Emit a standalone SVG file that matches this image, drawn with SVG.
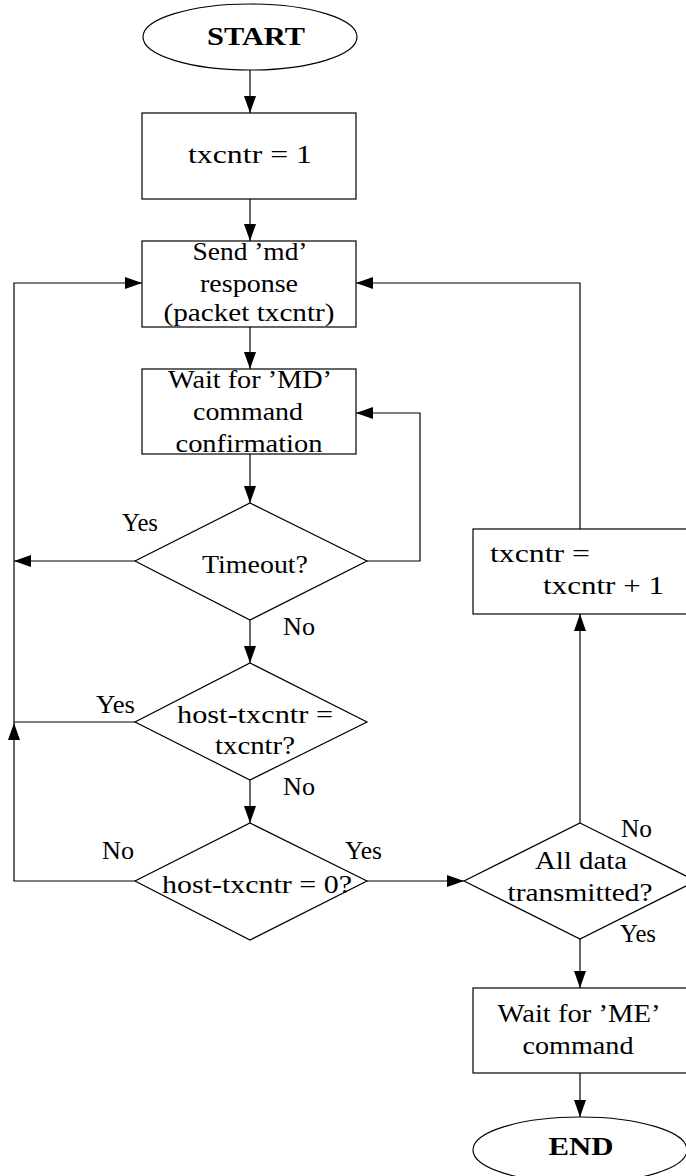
<svg xmlns="http://www.w3.org/2000/svg" width="686" height="1176" viewBox="0 0 686 1176">
<style>
.shape{fill:#fff;stroke:#000;stroke-width:1.2}
.conn{fill:none;stroke:#000;stroke-width:1.2}
text{font-family:"Liberation Serif","Times New Roman",serif;font-size:25px;fill:#000}
.c{text-anchor:middle}
.b{font-weight:bold}
</style>
<defs>
<marker id="arr" markerUnits="userSpaceOnUse" markerWidth="17" markerHeight="12" refX="17" refY="6" orient="auto">
<path d="M0,0 L17,6 L0,12 z" fill="#000"/>
</marker>
</defs>
<rect width="686" height="1176" fill="#fff"/>
<g id="connectors">
<path class="conn" d="M250,70 V113" marker-end="url(#arr)"/>
<path class="conn" d="M250,199 V241" marker-end="url(#arr)"/>
<path class="conn" d="M250,327 V369" marker-end="url(#arr)"/>
<path class="conn" d="M250,454 V503" marker-end="url(#arr)"/>
<path class="conn" d="M135,561 H14" marker-end="url(#arr)"/>
<path class="conn" d="M367,561 H420 V413 H356" marker-end="url(#arr)"/>
<path class="conn" d="M250,620 V663" marker-end="url(#arr)"/>
<path class="conn" d="M135,722 H14"/>
<path class="conn" d="M250,780 V823" marker-end="url(#arr)"/>
<path class="conn" d="M135,881 H14 V723" marker-end="url(#arr)"/>
<path class="conn" d="M14,723 V283 H142" marker-end="url(#arr)"/>
<path class="conn" d="M367,881 H464" marker-end="url(#arr)"/>
<path class="conn" d="M580,823 V614" marker-end="url(#arr)"/>
<path class="conn" d="M580,529 V283 H356" marker-end="url(#arr)"/>
<path class="conn" d="M580,939 V988" marker-end="url(#arr)"/>
<path class="conn" d="M580,1073 V1117" marker-end="url(#arr)"/>
</g>
<g id="start">
<ellipse class="shape" cx="250" cy="37" rx="107" ry="33"/>
<text class="c b" x="256" y="45" textLength="98" lengthAdjust="spacingAndGlyphs">START</text>
</g>
<g id="init">
<rect class="shape" x="142" y="113" width="214" height="86"/>
<text class="c" x="250" y="163" textLength="124" lengthAdjust="spacingAndGlyphs">txcntr = 1</text>
</g>
<g id="send">
<rect class="shape" x="142" y="241" width="214" height="86"/>
<text class="c" x="250" y="260" textLength="115" lengthAdjust="spacingAndGlyphs">Send ’md’</text>
<text class="c" x="249" y="292" textLength="98" lengthAdjust="spacingAndGlyphs">response</text>
<text class="c" x="249" y="321" textLength="171" lengthAdjust="spacingAndGlyphs">(packet txcntr)</text>
</g>
<g id="wait-md">
<rect class="shape" x="142" y="369" width="214" height="85"/>
<text class="c" x="250" y="388" textLength="164" lengthAdjust="spacingAndGlyphs">Wait for ’MD’</text>
<text class="c" x="248" y="420" textLength="110" lengthAdjust="spacingAndGlyphs">command</text>
<text class="c" x="249" y="452" textLength="147" lengthAdjust="spacingAndGlyphs">confirmation</text>
</g>
<g id="timeout">
<polygon class="shape" points="250,503 367,561 250,620 135,561"/>
<text class="c" x="255" y="573" textLength="106" lengthAdjust="spacingAndGlyphs">Timeout?</text>
<text x="122" y="531" textLength="36" lengthAdjust="spacingAndGlyphs">Yes</text>
<text x="283" y="635" textLength="32" lengthAdjust="spacingAndGlyphs">No</text>
</g>
<g id="host-eq">
<polygon class="shape" points="250,663 367,722 250,780 135,722"/>
<text class="c" x="255" y="723" textLength="156" lengthAdjust="spacingAndGlyphs">host-txcntr =</text>
<text class="c" x="255" y="754" textLength="80" lengthAdjust="spacingAndGlyphs">txcntr?</text>
<text x="96" y="713" textLength="39" lengthAdjust="spacingAndGlyphs">Yes</text>
<text x="283" y="795" textLength="32" lengthAdjust="spacingAndGlyphs">No</text>
</g>
<g id="host-zero">
<polygon class="shape" points="250,823 367,881 250,940 135,881"/>
<text class="c" x="257" y="893" textLength="190" lengthAdjust="spacingAndGlyphs">host-txcntr = 0?</text>
<text x="102" y="859" textLength="32" lengthAdjust="spacingAndGlyphs">No</text>
<text x="345" y="859" textLength="37" lengthAdjust="spacingAndGlyphs">Yes</text>
</g>
<g id="all-data">
<polygon class="shape" points="580,823 696,881 580,939 464,881"/>
<text class="c" x="581" y="869" textLength="92" lengthAdjust="spacingAndGlyphs">All data</text>
<text class="c" x="580" y="901" textLength="145" lengthAdjust="spacingAndGlyphs">transmitted?</text>
<text x="621" y="837" textLength="31" lengthAdjust="spacingAndGlyphs">No</text>
<text x="620" y="942" textLength="36" lengthAdjust="spacingAndGlyphs">Yes</text>
</g>
<g id="increment">
<rect class="shape" x="473" y="529" width="214" height="85"/>
<text x="490" y="562" textLength="100" lengthAdjust="spacingAndGlyphs">txcntr =</text>
<text x="543" y="594" textLength="121" lengthAdjust="spacingAndGlyphs">txcntr + 1</text>
</g>
<g id="wait-me">
<rect class="shape" x="473" y="988" width="214" height="85"/>
<text class="c" x="579" y="1022" textLength="163" lengthAdjust="spacingAndGlyphs">Wait for ’ME’</text>
<text class="c" x="578" y="1054" textLength="111" lengthAdjust="spacingAndGlyphs">command</text>
</g>
<g id="end">
<ellipse class="shape" cx="580" cy="1150" rx="107" ry="33"/>
<text class="c b" x="581" y="1155" textLength="65" lengthAdjust="spacingAndGlyphs">END</text>
</g>
</svg>
